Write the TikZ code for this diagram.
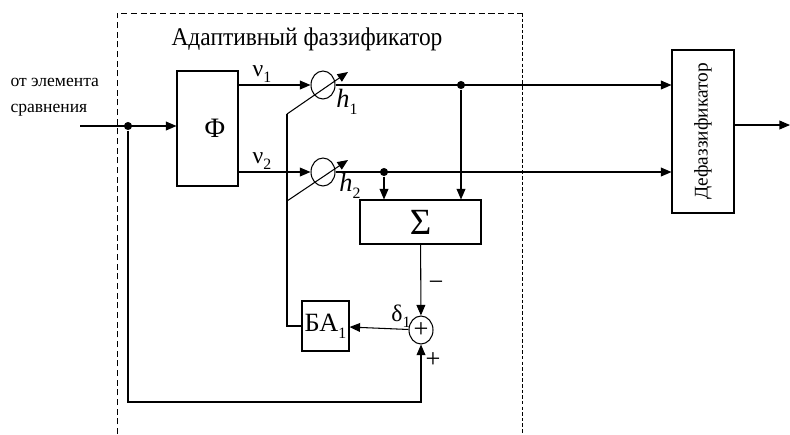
\documentclass[tikz,border=0pt]{standalone}
\usepackage{fontspec}
\setmainfont{Liberation Serif}
\usetikzlibrary{positioning,arrows.meta,shapes.geometric}
\newcommand{\lowsub}[1]{\raisebox{-0.55ex}{\fontsize{9}{9}\selectfont #1}}

\begin{document}
\begin{tikzpicture}[
    x=0.02cm, y=-0.02cm,
    line width=0.6pt,
    block/.style={
        draw,
        inner sep=0pt,
        font=\fontsize{15}{15}\selectfont
    },
    weight/.style={
        draw,
        ellipse,
        inner sep=0pt,
        minimum width=0.48cm,
        minimum height=0.56cm,
        font=\fontsize{15}{15}\selectfont
    },
    dot/.style={circle, fill, inner sep=0pt, minimum size=4.6pt},
    lbl/.style={inner sep=0pt, font=\fontsize{13.5}{13.5}\selectfont},
    arrow/.style={
        -{Triangle[length=6pt,width=5pt]}
    },
    frame/.style={dashed, dash pattern=on 3.5pt off 2pt, line width=0.5pt}
]
\useasboundingbox (0,0) rectangle (790,434);

% frame of the fuzzifier
\draw[frame] (117,434) |- (522,13);
\draw[frame, dash pattern=on 2pt off 1.2pt] (522,13) -- (522,434);
\node[lbl, font=\fontsize{14.5}{14.5}\selectfont, anchor=base] (title) at (307,45) {\scalebox{0.92}[1]{Адаптивный фаззификатор}};
\node[lbl, font=\fontsize{10}{15}\selectfont, align=left, anchor=west] (src) at (10,97) {от элемента\\сравнения};

% blocks
\node[block, minimum width=1.22cm, minimum height=2.3cm] (fi) at (207.5,128.5) {};
\node[lbl, font=\fontsize{16}{16}\selectfont] (filbl) at (215,128) {Φ};
\node[weight] (w1) at (323,85) {};
\node[weight] (w2) at (323,172) {};
\node[block, minimum width=2.42cm, minimum height=0.88cm, font=\fontsize{21}{21}\selectfont] (sig) at (420.5,222) {Σ};
\node[weight] (sum) at (421,330) {+};
\node[block, minimum width=0.94cm, minimum height=1cm] (ba) at (325.5,326) {БА\lowsub{1}};
\node[block, minimum width=1.24cm, minimum height=3.26cm, font=\fontsize{11}{11}\selectfont] (def) at (703,131.5) {\rotatebox{90}{Дефаззификатор}};

% branch points
\node[dot] (d0) at (128,126) {};
\node[dot] (d1) at (461,85) {};
\node[dot] (d2) at (384,172) {};
\coordinate (in) at (80,126);
\coordinate (out) at (790,125);
\coordinate (k1) at (287,114);
\coordinate (k1e) at (348,72);
\coordinate (k2) at (287,201);
\coordinate (k2e) at (348,160);
\coordinate (fb) at (421,402);

% labels
\node[lbl] (nu1) at (262,74) {ν\lowsub{1}};
\node[lbl] (nu2) at (262,161) {ν\lowsub{2}};
\node[lbl, font=\fontsize{15}{15}\selectfont] (h1) at (347,102) {\textit{h}\lowsub{1}};
\node[lbl, font=\fontsize{15}{15}\selectfont] (h2) at (350,186) {\textit{h}\lowsub{2}};
\node[lbl] (del) at (401,316) {δ\lowsub{1}};
\node[lbl, font=\fontsize{15}{15}\selectfont] (minus) at (436,286) {−};
\node[lbl, font=\fontsize{15}{15}\selectfont] (plus) at (433,360) {+};

% connections
\draw[arrow] (in) -- (fi.west |- in);
\draw[arrow] (fi.east |- w1) -- (w1);
\draw[arrow] (fi.east |- w2) -- (w2);
\draw[arrow] (w1) -- (def.west |- w1);
\draw[arrow] (w2) -- (def.west |- w2);
\draw[arrow] (d1) -- (d1 |- sig.north);
\draw[arrow] (d2) -- (d2 |- sig.north);
\draw[arrow] (sig) -- (sum);
\draw[arrow] (sum) -- (ba);
\draw[arrow] (d0) |- (fb) -- (sum);
\draw (ba.west) -| (k1);
\draw[arrow] (k1) -- (k1e);
\draw[arrow] (k2) -- (k2e);
\draw[arrow] (def.east |- out) -- (out);
\end{tikzpicture}
\end{document}
